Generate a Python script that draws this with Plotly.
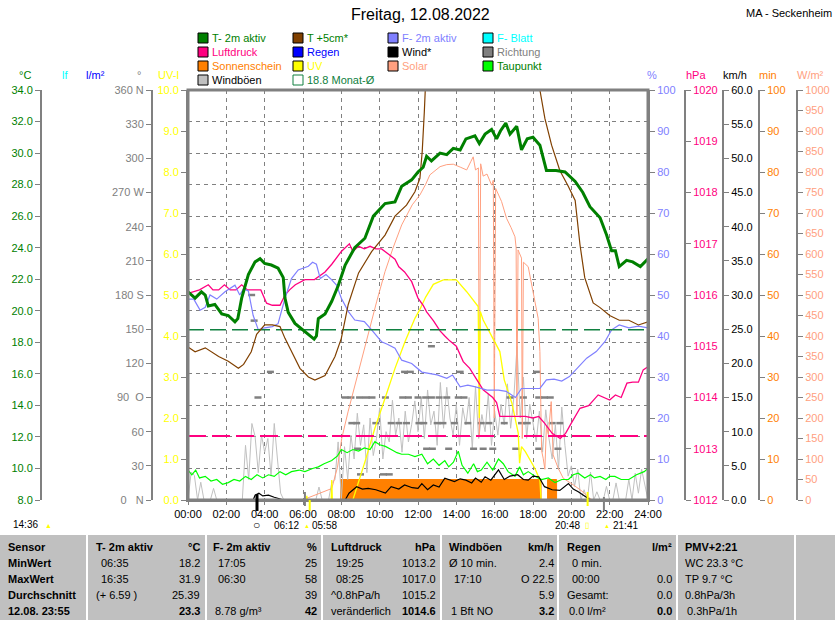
import plotly.graph_objects as go

# figure is laid out in pixels, converted to paper fractions
W, H = 835, 620
FONT = "Liberation Sans"
GRAY = "#808080"


def fx(px):
    return px / W


def fy(py):
    return 1 - py / H


hours = list(range(0, 25, 2))
hour_labels = ["%02d:00" % h for h in hours]

# T- 2m aktiv (°C)
t2m_t = [0.0, 0.37, 0.7, 0.9, 1.06, 1.4, 1.76, 2.1, 2.45, 2.6, 2.8, 3.15, 3.5, 3.76, 4.0, 4.35,
         4.7, 4.97, 5.06, 5.23, 5.58, 6.1, 6.58, 6.7, 6.8, 7.15, 7.5, 7.84, 8.2, 8.7, 9.23, 9.67,
         10.28, 10.8, 11.15, 11.67, 12.0, 12.27, 12.45, 12.7, 13.15, 13.5, 13.84, 14.2, 14.5,
         14.97, 15.2, 15.5, 15.84, 16.1, 16.3, 16.58, 16.8, 17.15, 17.4, 17.7, 18.0, 18.36, 18.7,
         19.2, 19.67, 20.2, 20.6, 20.97, 21.5, 21.84, 22.1, 22.3, 22.5, 22.88, 23.2, 23.6, 24.0]
t2m = [21.2, 20.8, 21.2, 21.0, 20.3, 20.4, 19.8, 19.7, 19.3, 19.5, 20.8, 22.3, 23.1, 23.3, 23.0, 22.9,
       22.7, 22.1, 20.8, 19.9, 19.2, 18.7, 18.2, 18.4, 19.5, 19.8, 20.6, 21.6, 22.9, 24.0, 24.6, 26.0,
       26.8, 26.9, 27.9, 28.3, 28.8, 29.1, 29.8, 29.5, 30.0, 29.9, 30.3, 30.2, 30.9,
       31.1, 30.6, 31.2, 31.5, 30.9, 31.4, 31.9, 31.2, 31.7, 30.2, 30.9, 31.0, 30.5, 28.9,
       28.9, 28.8, 28.2, 27.5, 26.6, 25.9, 24.8, 23.8, 23.8, 22.8, 23.2, 23.1, 22.8, 23.3]

# T +5cm* (°C), above the axis top around midday
t5_t = [0.0, 0.37, 0.9, 1.6, 2.1, 2.63, 2.9, 3.3, 3.58, 4.0, 4.4, 4.8, 5.06, 5.4, 5.84, 6.28, 6.62,
        7.15, 7.67, 8.0, 8.36, 8.9, 9.58, 10.28, 10.8, 11.4, 11.84, 12.1, 12.22, 12.33, 12.45, 13.0,
        14.0, 15.0, 16.0, 17.0, 18.0, 18.36, 18.62, 18.97, 19.4, 19.84, 20.2, 20.45, 20.7, 21.14,
        21.5, 22.0, 22.5, 23.0, 23.5, 24.0]
t5 = [17.7, 17.4, 17.65, 17.1, 16.8, 16.35, 16.6, 17.4, 18.5, 19.1, 19.1, 19.0, 18.25, 17.4, 16.35, 15.8, 15.6,
      15.9, 17.1, 18.25, 20.4, 22.4, 23.75, 24.8, 26.0, 26.7, 27.55, 28.4, 30.1, 32.6, 36.0, 40.0,
      43.0, 44.0, 43.0, 41.0, 37.0, 34.0, 32.2, 30.5, 28.9, 27.9, 27.0, 24.2, 22.1, 20.5,
      20.2, 19.7, 19.4, 19.4, 19.1, 19.3]

# Taupunkt (°C)
dew_t = [0.0, 0.2, 0.4, 0.6, 0.9, 1.2, 1.5, 1.8, 2.1, 2.4, 2.7, 3.0, 3.3, 3.6, 3.9, 4.2, 4.5, 4.8,
         5.1, 5.4, 5.8, 6.1, 6.5, 6.8, 7.1, 7.5, 7.8, 8.0, 8.3, 8.6, 8.9, 9.2, 9.5, 9.75, 10.0, 10.3,
         10.6, 10.9, 11.15, 11.5, 11.84, 12.2, 12.5, 12.8, 13.1, 13.4, 13.6, 13.85, 14.1, 14.3, 14.6,
         14.9, 15.1, 15.3, 15.6, 15.9, 16.2, 16.45, 16.7, 17.06, 17.3, 17.5, 17.75, 18.1, 18.45, 18.8,
         19.15, 19.5, 19.85, 20.1, 20.36, 20.7, 21.0, 21.2, 21.5, 21.8, 22.0, 22.27, 22.6, 23.0, 23.4,
         23.8, 24.0]
dew = [9.9, 9.6, 9.9, 9.4, 9.5, 9.2, 9.3, 9.0, 9.1, 9.3, 9.2, 9.5, 9.3, 9.6, 9.4, 9.6, 9.5, 9.8,
       9.6, 9.8, 9.9, 9.8, 10.0, 10.1, 10.3, 10.5, 10.8, 11.2, 11.0, 11.2, 11.1, 11.3, 11.2, 11.7, 11.5, 11.4,
       11.2, 11.0, 10.9, 10.9, 10.75, 10.9, 10.3, 10.6, 10.2, 10.5, 10.1, 10.4, 11.1, 10.2, 9.7,
       10.3, 9.8, 9.9, 10.4, 9.9, 10.6, 10.3, 9.8, 9.5, 10.1, 9.6, 9.8, 9.5, 9.3, 9.4,
       9.1, 9.3, 9.3, 9.6, 9.7, 9.4, 9.6, 9.4, 9.5, 9.3, 9.5, 9.5, 9.3, 9.3, 9.6,
       9.8, 10.0]

# Monat-Ø (°C)
avg_t = [0, 24]
avg_val = [18.8, 18.8]

# F- 2m aktiv (%)
hum_t = [0.0, 0.3, 0.63, 0.9, 1.15, 1.5, 1.93, 2.45, 2.7, 2.9, 3.15, 3.4, 3.67, 4.0, 4.4, 4.7, 5.06,
         5.4, 5.75, 6.28, 6.5, 6.7, 6.9, 7.2, 7.5, 7.75, 8.0, 8.36, 8.7, 9.2, 9.58, 10.1, 10.4, 10.8,
         11.15, 11.67, 12.2, 12.5, 13.0, 13.5, 13.8, 14.2, 14.6, 15.0, 15.6, 16.2, 16.6, 17.08, 17.4,
         18.36, 18.7, 19.1, 19.5, 19.9, 20.3, 20.8, 21.3, 21.75, 22.1, 22.5, 23.0, 23.5, 24.0]
hum = [49, 49, 46.3, 47, 50, 49, 50.8, 52.4, 50, 51.5, 51, 45, 41.5, 42, 42.3, 43, 49.2,
       54, 56.1, 57, 58, 57.5, 54, 55, 53.7, 52.4, 49.2, 46, 43.9, 43.5, 41.5, 38.6, 38.0, 37,
       34.1, 33.3, 31.2, 31, 30.5, 29.7, 30.5, 27.6, 28, 27.6, 26.8, 26.8, 26.5, 25, 27.2,
       27.2, 29.3, 29.5, 29.0, 30.1, 32.1, 34.6, 36.2, 38.6, 41.5, 42.7, 42.0, 42.4, 42.0]

# Luftdruck (hPa)
p_t = [0.0, 0.3, 0.6, 1.06, 1.3, 1.6, 1.9, 2.2, 2.5, 2.8, 3.1, 3.5, 3.8, 4.1, 4.4, 4.8, 5.06, 5.3,
       5.6, 6.1, 6.6, 7.15, 7.5, 8.0, 8.42, 8.6, 8.9, 9.2, 9.5, 9.8, 10.1, 10.45, 10.8, 11.0, 11.3,
       11.67, 12.0, 12.27, 12.45, 12.8, 13.15, 13.4, 13.67, 14.0, 14.36, 14.7, 15.0, 15.4, 15.9,
       16.1, 16.27, 17.0, 17.6, 18.0, 18.3, 18.6, 19.0, 19.42, 19.7, 20.0, 20.45, 20.9, 21.4, 22.0,
       22.3, 22.6, 22.9, 23.2, 23.5, 23.75, 24.0]
p = [1016.03, 1016.06, 1016.1, 1016.2, 1016.1, 1016.1, 1016.2, 1016.1, 1016.1, 1016.2, 1016.1,
     1016.1, 1016.1, 1015.84, 1015.8, 1015.8, 1016.0, 1016.1, 1016.2, 1016.3, 1016.3, 1016.45,
     1016.6, 1016.85, 1017.0, 1016.85, 1016.95, 1016.9, 1016.95, 1016.9, 1016.9, 1016.8, 1016.7,
     1016.55, 1016.45, 1016.26, 1015.94, 1015.8, 1015.67, 1015.5, 1015.3, 1015.2, 1015.1, 1015.0,
     1014.7, 1014.57, 1014.4, 1014.15, 1014.0, 1013.9, 1013.63, 1013.63, 1013.63, 1013.6, 1013.63,
     1013.5, 1013.3, 1013.2, 1013.3, 1013.5, 1013.79, 1013.84, 1014.05, 1013.95, 1014.05, 1014.0,
     1014.28, 1014.3, 1014.3, 1014.54, 1014.6]
p_norm_t = [0, 24]
p_norm = [1013.25, 1013.25]

# Wind* (km/h)
wind_t = [0, 3.4, 3.5, 3.7, 3.9, 4.2, 4.5, 5.0, 8.2, 8.4, 8.8, 9.1, 9.4, 9.8, 10.3, 10.6, 11.0,
          11.3, 11.7, 12.0, 12.2, 12.5, 12.8, 13.1, 13.4, 13.9, 14.2, 14.5, 14.8, 15.0, 15.3, 15.5,
          15.8, 16.2, 16.5, 16.8, 17.2, 17.5, 17.75, 18.0, 18.3, 18.6, 19.0, 19.4, 19.85, 20.1,
          20.36, 20.7, 21.0, 24.0]
wind = [0, 0, 0.7, 1.0, 0.6, 0.7, 0.4, 0, 0, 1.0, 1.95, 1.6, 1.7, 1.5, 1.0, 1.95, 1.6,
        2.2, 1.8, 1.7, 2.4, 1.5, 2.2, 1.9, 3.2, 2.7, 3.1, 2.9, 2.5, 3.2, 2.6, 3.4,
        2.9, 4.4, 3.0, 3.5, 3.7, 3.0, 2.9, 3.5, 3.4, 1.95, 1.5, 1.4, 2.4, 1.6,
        1.2, 0.5, 0, 0]

# Windböen (km/h), one value every 10 minutes
gusts = [
    0, 4.1, 3.6, 0, 2.6, 0,
    0, 0, 1.7, 0, 0, 0,
    0, 0, 0, 0, 0, 0,
    8.0, 3.0, 11.2, 9.3, 4.0, 9.5,
    7.0, 9.0, 3.5, 11.2, 6.0, 1.0,
    0, 0, 0, 0, 0, 0,
    0, 0, 0, 0, 0, 1.9,
    0, 0, 0, 2.5, 3.0, 8.5,
    0, 7.8, 3.0, 9.5, 6.0, 12.7,
    8.0, 11.0, 4.0, 12.0, 6.5, 9.0,
    13.5, 6.0, 10.0, 8.5, 14.6, 9.5,
    12.0, 7.0, 13.0, 8.5, 11.0, 14.5,
    10.0, 15.0, 9.0, 16.1, 11.0, 13.0,
    8.0, 17.2, 10.5, 16.5, 12.0, 9.5,
    14.0, 8.0, 13.5, 11.0, 15.0, 7.5,
    16.6, 9.0, 12.5, 10.0, 15.5, 8.0,
    13.0, 9.5, 14.0, 11.0, 17.0, 10.5,
    15.0, 22.5, 12.0, 18.0, 9.0, 14.0,
    11.0, 8.5, 13.0, 7.0, 13.2, 9.0,
    6.0, 11.0, 4.5, 13.6, 8.0, 3.5,
    5.0, 2.0, 4.5, 0, 1.5, 0,
    4.1, 0, 1.2, 0, 0, 2.0,
    0, 0, 2.5, 0, 0, 0,
    3.0, 0, 3.9, 1.0, 4.5, 2.0,
    0,
]
gust_t = [i / 6 for i in range(len(gusts))]

# Richtung (°), grouped by reading
dir_t = [3.32, 3.45, 3.65, 4.3,
         8.2, 8.5, 8.95, 9.3, 9.6, 10.3, 11.2, 11.5, 12.0, 12.4, 12.7, 13.1, 13.5, 14.1, 14.4,
         16.8, 17.5, 18.3, 18.6, 18.9,
         8.55, 8.8, 9.8, 10.6, 11.0, 11.4, 12.05, 12.3, 13.0, 13.3, 13.9, 14.6, 15.3, 15.7,
         16.5, 17.4, 17.7, 19.0, 19.4,
         8.85, 12.45, 12.75, 13.6, 14.9, 15.4, 15.9, 17.1, 18.3, 19.3,
         9.0, 10.2, 10.5,
         11.3, 11.6, 14.2, 18.2,
         12.7]
dir_deg = [180, 157.5, 90, 112.5,
           90, 90, 90, 90, 90, 90, 90, 90, 90, 90, 90, 90, 90, 90, 90,
           90, 90, 90, 90, 90,
           67.5, 67.5, 67.5, 67.5, 67.5, 67.5, 67.5, 67.5, 67.5, 67.5, 67.5, 67.5, 67.5, 67.5,
           67.5, 67.5, 67.5, 67.5, 67.5,
           45, 45, 45, 45, 45, 45, 45, 45, 45, 45,
           22.5, 22.5, 22.5,
           112.5, 112.5, 112.5, 112.5,
           135]

# Sonnenschein (min per interval)
sun_t = [0, 7.96, 18.42, 18.76, 19.23, 24]
sun_min = [0, 5, 0, 5, 0, 0]

# UV-I
uv_t = [0, 6.18, 6.2, 6.22, 7.47, 7.5, 7.53, 8.6, 9.23, 9.75, 10.28, 10.8, 11.32, 11.84, 12.1,
        12.4, 12.8, 13.32, 14.0, 14.54, 15.14, 15.2, 15.25, 15.4, 16.27, 16.5, 16.9, 17.06, 17.23,
        17.3, 17.4, 17.6, 17.84, 18.1, 18.36, 18.42, 24]
uv = [0, 0, 0.1, 0, 0, 0.49, 0, 0, 0.93, 1.75, 2.48, 3.21, 3.86, 4.43, 4.65,
      4.95, 5.26, 5.37, 5.37, 5.08, 4.72, 2.0, 4.6, 4.39, 3.62, 2.93, 2.36, 2.03, 1.63,
      0.9, 1.3, 1.18, 0.98, 0.77, 0.49, 0, 0]

# Solar (W/m²)
sol_t = [0, 6.0, 6.19, 6.6, 7.0, 7.5, 7.8, 8.02, 8.35, 8.71, 9.05, 9.4, 9.85, 10.28, 10.7, 11.15,
         11.7, 12.1, 12.4, 12.62, 13.15, 13.5, 13.84, 14.2, 14.54, 14.75, 14.88, 15.0, 15.15, 15.2,
         15.27, 15.4, 15.6, 15.84, 15.93, 15.98, 16.05, 16.36, 16.62, 16.85, 17.06, 17.12, 17.16,
         17.22, 17.4, 17.44, 17.5, 17.75, 17.85, 18.0, 18.1, 18.27, 18.36, 18.45, 18.53, 18.62,
         18.7, 18.8, 18.95, 19.05, 19.32, 19.58, 20.1, 20.6, 20.97, 21.1, 24]
sol = [0, 0, 4, 12, 20, 28, 80, 150, 215, 280, 345, 410, 485, 557, 615, 671,
       720, 744, 770, 793, 813, 818, 819, 812, 805, 825, 837, 805, 810, 159,
       820, 790, 795, 768, 780, 200, 760, 728, 687, 665, 642, 615, 207,
       610, 590, 150, 580, 569, 545, 508, 490, 443, 362, 120, 102, 75,
       180, 160, 240, 110, 77, 53, 37, 20, 4, 0, 0]

fig = go.Figure()

# sunshine minutes (bottom layer)
fig.add_trace(go.Scatter(x=sun_t, y=sun_min, yaxis="y", mode="lines", fill="tozeroy",
                         fillcolor="#ff8000", line=dict(color="#ff8000", width=1, shape="hv")))
# gusts
fig.add_trace(go.Scatter(x=gust_t, y=gusts, yaxis="y2", mode="lines",
                         line=dict(color="#c0c0c0", width=1)))
# direction
fig.add_trace(go.Scatter(x=dir_t, y=dir_deg, yaxis="y3", mode="markers",
                         marker=dict(symbol="line-ew", size=5, line=dict(color=GRAY, width=2.5))))
# solar
fig.add_trace(go.Scatter(x=sol_t, y=sol, yaxis="y4", mode="lines",
                         line=dict(color="#ffa080", width=1)))
# uv
fig.add_trace(go.Scatter(x=uv_t, y=uv, yaxis="y5", mode="lines",
                         line=dict(color="#ffff00", width=1.3)))
# pressure
fig.add_trace(go.Scatter(x=p_norm_t, y=p_norm, yaxis="y6", mode="lines",
                         line=dict(color="#ff0080", width=2, dash="18px,6px")))
fig.add_trace(go.Scatter(x=p_t, y=p, yaxis="y6", mode="lines",
                         line=dict(color="#ff0080", width=1.3)))
# humidity
fig.add_trace(go.Scatter(x=hum_t, y=hum, yaxis="y7", mode="lines",
                         line=dict(color="#8080ff", width=1.2)))
# temperatures
fig.add_trace(go.Scatter(x=dew_t, y=dew, yaxis="y8", mode="lines",
                         line=dict(color="#00ff00", width=1.2)))
fig.add_trace(go.Scatter(x=avg_t, y=avg_val, yaxis="y8", mode="lines",
                         line=dict(color="#108040", width=1.5, dash="16px,6px")))
fig.add_trace(go.Scatter(x=t5_t, y=t5, yaxis="y8", mode="lines",
                         line=dict(color="#804000", width=1.2)))
fig.add_trace(go.Scatter(x=t2m_t, y=t2m, yaxis="y8", mode="lines",
                         line=dict(color="#008000", width=3)))
# wind (top layer)
fig.add_trace(go.Scatter(x=wind_t, y=wind, yaxis="y9", mode="lines",
                         line=dict(color="#000000", width=1.2)))


def yax(color, rng, side, pos=None, dtick=None, fmt=None, tickvals=None, ticktext=None, overlay=True):
    a = dict(range=rng, side=side, showline=True, linecolor=GRAY, linewidth=2,
             ticks="outside", ticklen=5, tickwidth=1, tickcolor=GRAY,
             showgrid=False, zeroline=False, fixedrange=True,
             tickfont=dict(family=FONT, size=11, color=color))
    if pos is None:
        a["anchor"] = "x"
    else:
        a.update(anchor="free", position=pos)
    if dtick:
        a.update(tickmode="linear", tick0=rng[0], dtick=dtick)
    if fmt:
        a["tickformat"] = fmt
    if tickvals:
        a.update(tickmode="array", tickvals=tickvals, ticktext=ticktext)
    if overlay:
        a["overlaying"] = "y"
    return a


deg_vals = list(range(0, 361, 30))
nb = "\u00a0"
deg_text = ["0" + nb * 3 + "N", "30", "60", "90" + nb * 2 + "O", "120", "150", "180 S",
            "210", "240", "270 W", "300", "330", "360 N"]

y_main = yax("#ff8000", [0, 100], "right", fx(759), dtick=10, overlay=False)
y_main["domain"] = [fy(500), fy(90)]
y_temp = yax("#008000", [8, 34], "left", fx(41), dtick=2, fmt=".1f")
y_temp.update(showgrid=True, gridcolor=GRAY, gridwidth=1, griddash="4px,4px")

fig.update_layout(
    width=W, height=H, autosize=False, template="none",
    margin=dict(l=0, r=0, t=0, b=0),
    paper_bgcolor="white", plot_bgcolor="white",
    showlegend=False,
    font=dict(family=FONT, size=11, color="black"),
    xaxis=dict(domain=[fx(188), fx(648)], range=[0, 24], anchor="y",
               tickmode="array", tickvals=hours, ticktext=hour_labels,
               showline=True, linecolor=GRAY, linewidth=2, ticks="outside", ticklen=3,
               tickcolor=GRAY, showgrid=True, gridcolor=GRAY, gridwidth=1, griddash="4px,4px",
               zeroline=False, fixedrange=True,
               tickfont=dict(family=FONT, size=11, color="black")),
    yaxis=y_main,
    yaxis2=yax("#000000", [0, 60], "right", fx(723), dtick=5, fmt=".1f"),
    yaxis3=yax(GRAY, [0, 360], "left", fx(152), tickvals=deg_vals, ticktext=deg_text),
    yaxis4=yax("#ffa080", [0, 1000], "right", fx(797), dtick=50),
    yaxis5=yax("#ffff00", [0, 10], "left", None, dtick=1, fmt=".1f"),
    yaxis6=yax("#ff0080", [1012, 1020], "right", fx(685), dtick=1),
    yaxis7=yax("#8080ff", [0, 100], "right", None, dtick=10),
    yaxis8=y_temp,
    yaxis9=dict(overlaying="y", range=[0, 60], visible=False, fixedrange=True),
    yaxis10=yax("#0000ff", [0, 5], "left", fx(115), dtick=1, fmt=".1f"),
    yaxis11=yax("#00ffff", [0, 15], "left", fx(77), dtick=1),
)

shapes = []
ann = []


def txt(x, y, s, color="black", size=11, anchor="left"):
    ann.append(dict(x=fx(x), y=fy(y), xref="paper", yref="paper", text=s, showarrow=False,
                    xanchor=anchor, yanchor="middle", borderpad=0,
                    font=dict(family=FONT, size=size, color=color)))


# plot frame
shapes.append(dict(type="rect", xref="paper", yref="paper", x0=fx(188), x1=fx(648),
                   y0=fy(500), y1=fy(90), line=dict(color=GRAY, width=3), layer="above"))

# title
txt(420, 15, "Freitag, 12.08.2022", size=16, anchor="center")
txt(833, 13, "MA - Seckenheim", size=11, anchor="right")

# axis titles
axis_titles = [(25, "°C", "#008000"), (65, "lf", "#00ffff"), (95, "l/m²", "#0000ff"),
               (139, "°", GRAY), (168, "UV-I", "#ffff00"), (652, "%", "#8080ff"),
               (696, "hPa", "#ff0080"), (735, "km/h", "#000000"), (768, "min", "#ff8000"),
               (810, "W/m²", "#ffa080")]
for x, s, c in axis_titles:
    txt(x, 75, s, color=c, anchor="center")

# legend
legend_items = [
    [("T- 2m aktiv", "#008000", "#008000"), ("T +5cm*", "#804000", "#008000"),
     ("F- 2m aktiv", "#8080ff", "#8080ff"), ("F- Blatt", "#00ffff", "#00ffff")],
    [("Luftdruck", "#ff0080", "#ff0080"), ("Regen", "#0000ff", "#0000ff"),
     ("Wind*", "#000000", "#000000"), ("Richtung", "#808080", "#808080")],
    [("Sonnenschein", "#ff8000", "#ff8000"), ("UV", "#ffff00", "#ffff00"),
     ("Solar", "#ffa080", "#ffa080"), ("Taupunkt", "#00ff00", "#008000")],
    [("Windböen", "#c0c0c0", "#000000"), ("18.8 Monat-Ø", None, "#108040")],
]
leg_x = [198, 293, 388, 483]
leg_y = [38, 52, 66, 80]
for r, row in enumerate(legend_items):
    for c, (label, sq, tc) in enumerate(row):
        x0, yc = leg_x[c], leg_y[r]
        if sq is None:
            shapes.append(dict(type="rect", xref="paper", yref="paper", x0=fx(x0), x1=fx(x0 + 10),
                               y0=fy(yc + 5), y1=fy(yc - 5), line=dict(color="#108040", width=1),
                               fillcolor="white"))
        else:
            shapes.append(dict(type="rect", xref="paper", yref="paper", x0=fx(x0), x1=fx(x0 + 10),
                               y0=fy(yc + 5), y1=fy(yc - 5), line=dict(color="black", width=1),
                               fillcolor=sq))
        txt(x0 + 13, yc, label, color=tc)

# sun / moon markers below the time axis
marks = [(3.6, "#000000", 494, 511, 3), (6.1, GRAY, 492, 506, 2), (6.35, "#ffff00", 500, 511, 2),
         (20.85, "#ffff00", 492, 506, 2), (21.7, GRAY, 497, 511, 2)]
for t, c, ya, yb, w in marks:
    shapes.append(dict(type="line", xref="x", yref="paper", x0=t, x1=t, y0=fy(yb), y1=fy(ya),
                       line=dict(color=c, width=w)))
txt(12, 524, "14:36", size=10)
txt(44, 525, "▲", color="#ffff00", size=7)
txt(252, 525, "○", size=12)
txt(273, 525, "06:12", size=10)
txt(303, 526, "▲", color="#ffff00", size=6)
txt(311, 525, "05:58", size=10)
txt(554, 525, "20:48", size=10)
txt(584, 525, "▯", color="#ffff00", size=8)
txt(603, 526, "▲", color="#ffff00", size=6)
txt(612, 525, "21:41", size=10)

# summary table
shapes.append(dict(type="rect", xref="paper", yref="paper", x0=0, x1=1, y0=0, y1=fy(533),
                   line=dict(width=0), fillcolor="#c0c0c0", layer="below"))
shapes.append(dict(type="line", xref="paper", yref="paper", x0=0, x1=1, y0=fy(534), y1=fy(534),
                   line=dict(color="white", width=2)))
for sx in [87, 206, 322, 441, 558, 677, 795]:
    shapes.append(dict(type="line", xref="paper", yref="paper", x0=fx(sx), x1=fx(sx),
                       y0=0, y1=fy(535), line=dict(color="white", width=2)))

row_y = [547, 563, 579, 595, 611]
first_col = ["Sensor", "MinWert", "MaxWert", "Durchschnitt", "12.08. 23:55"]
for yv, s in zip(row_y, first_col):
    txt(7, yv, "<b>" + s + "</b>")

table_cols = [
    (95, 201, ["T- 2m aktiv", "06:35", "16:35", "(+ 6.59 )", ""],
     ["°C", "18.2", "31.9", "25.39", "23.3"]),
    (212, 318, ["F- 2m aktiv", "17:05", "06:30", "", "8.78 g/m³"],
     ["%", "25", "58", "39", "42"]),
    (330, 437, ["Luftdruck", "19:25", "08:25", "^0.8hPa/h", "veränderlich"],
     ["hPa", "1013.2", "1017.0", "1015.2", "1014.6"]),
    (448, 555, ["Windböen", "Ø 10 min.", "17:10", "", "1 Bft NO"],
     ["km/h", "2.4", "O 22.5", "5.9", "3.2"]),
    (566, 673, ["Regen", "0 min.", "00:00", "Gesamt:", "0.0 l/m²"],
     ["l/m²", "", "0.0", "0.0", "0.0"]),
    (684, 790, ["PMV+2:21", "WC 23.3 °C", "TP 9.7 °C", "0.8hPa/3h", "0.3hPa/1h"],
     ["", "", "", "", ""]),
]
for xl, xr, lefts, rights in table_cols:
    for i, (yv, ls, rs) in enumerate(zip(row_y, lefts, rights)):
        if ls:
            pad = 5 if (i in (1, 2) and ls[0].isdigit()) else (2 if i == 4 and ls[0].isdigit() else 0)
            txt(xl + pad, yv, "<b>" + ls + "</b>" if i == 0 else ls)
        if rs:
            txt(xr, yv, "<b>" + rs + "</b>" if i in (0, 4) else rs, anchor="right")

fig.update_layout(shapes=shapes, annotations=ann)
fig.write_html("out.html", config={"displayModeBar": False},
               post_script="document.body.style.margin='0';")
